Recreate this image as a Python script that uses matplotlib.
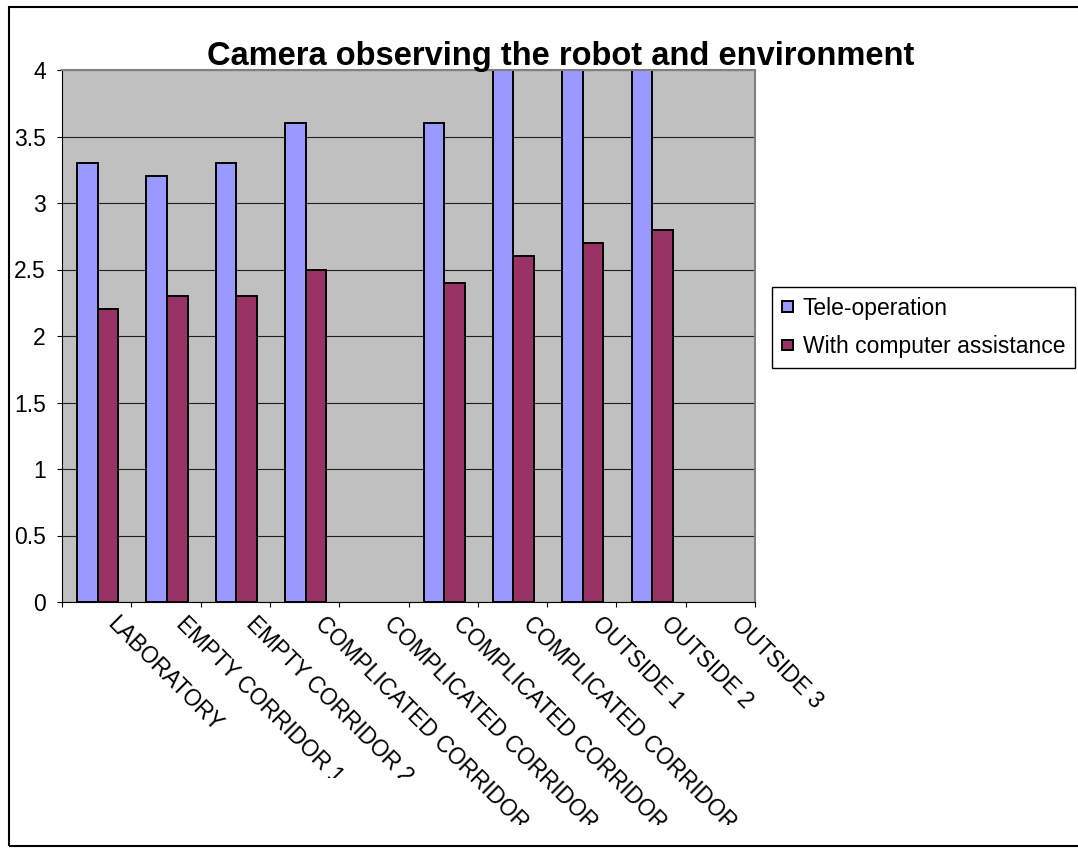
import numpy as np
import matplotlib
matplotlib.use("Agg")
import matplotlib.pyplot as plt
from matplotlib.transforms import ScaledTranslation, Bbox
from matplotlib.patches import Rectangle

plt.rcParams['font.family'] = ['Liberation Sans', 'DejaVu Sans']

categories = ['LABORATORY', 'EMPTY CORRIDOR 1', 'EMPTY CORRIDOR 2',
              'COMPLICATED CORRIDOR 1', 'COMPLICATED CORRIDOR 2',
              'COMPLICATED CORRIDOR 3', 'COMPLICATED CORRIDOR 4',
              'OUTSIDE 1', 'OUTSIDE 2', 'OUTSIDE 3']
# bars above 4 run off the top of the plot, their real height is unknown
tele = [3.3, 3.2, 3.3, 3.6, np.nan, 3.6, 4.5, 4.5, 4.5, np.nan]
assist = [2.2, 2.3, 2.3, 2.5, np.nan, 2.4, 2.6, 2.7, 2.8, np.nan]
yticks = [0, 0.5, 1, 1.5, 2, 2.5, 3, 3.5, 4]
# label clip bottom (pixels from top) for each category, as in the original
clip_px = [778, 778, 778, 825, 825, 825, 825, 856, 856, 856]

W, H = 1078, 856
fig = plt.figure(figsize=(W / 100, H / 100), dpi=100)
ax = fig.add_axes([62 / W, 1 - 602 / H, (755 - 62) / W, (602 - 70) / H])
ax.set_facecolor('#C0C0C0')

x = np.arange(len(categories))
bw = 0.296
ax.bar(x - bw / 2 + 0.015, tele, bw, color='#9999FF', edgecolor='black',
       linewidth=1.4, label='Tele-operation')
ax.bar(x + bw / 2 + 0.015, assist, bw, color='#993366', edgecolor='black',
       linewidth=1.4, label='With computer assistance')

ax.set_xlim(-0.5, len(categories) - 0.5)
ax.set_ylim(0, 4)
ax.set_yticks(yticks)
ax.set_yticklabels([f'{v:g}' for v in yticks])
ax.yaxis.grid(True, color='#202020', linewidth=0.8)
ax.set_axisbelow(True)

ax.set_xticks(np.arange(len(categories) + 1) - 0.5)
ax.set_xticklabels([])
ax.tick_params(axis='both', direction='out', length=3.6, width=0.8, color='black')
ax.tick_params(axis='y', labelsize=16.5, pad=8)

for side in ['left', 'bottom']:
    ax.spines[side].set_color('black')
    ax.spines[side].set_linewidth(0.8)
for side in ['top', 'right']:
    ax.spines[side].set_color('#808080')
    ax.spines[side].set_linewidth(1.5)

# rotated category labels, shifted right of the category centre like Excel
tr = ax.get_xaxis_transform() + ScaledTranslation(0, -0.10, fig.dpi_scale_trans)
for i, name in enumerate(categories):
    t = fig.text(i + 22 / 69.3, 0, name, transform=tr, rotation=-45,
                 rotation_mode='anchor', ha='left', va='top', fontsize=16.3)
    t.set_clip_on(True)
    t.set_clip_box(Bbox([[0, H - clip_px[i]], [W, H]]))

fig.text(561 / W, 1 - 65 / H, 'Camera observing the robot and environment',
         ha='center', va='baseline', fontsize=23.5, fontweight='bold')

leg = ax.legend(loc='upper left', bbox_to_anchor=(772 / W, 1 - 287 / H),
                bbox_transform=fig.transFigure, borderaxespad=0, fontsize=16.5,
                fancybox=False, framealpha=1, edgecolor='black',
                handlelength=0.48, handleheight=0.36, handletextpad=0.45,
                labelspacing=0.68, borderpad=0.42)
leg.get_frame().set_linewidth(1.0)

# outer chart border
fig.patches.append(Rectangle((9 / W, 1 - 846 / H), 1.2, (846 - 7) / H,
                             transform=fig.transFigure, fill=False,
                             edgecolor='black', linewidth=1.5))

fig.savefig('out.png', dpi=100)
